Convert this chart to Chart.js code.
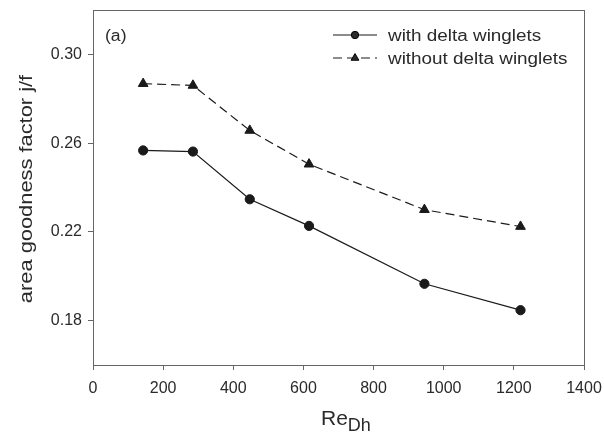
<!DOCTYPE html>
<html>
<head>
<meta charset="utf-8">
<script src="https://cdn.jsdelivr.net/npm/chart.js@4/dist/chart.umd.min.js"></script>
<style>
  html, body { margin: 0; padding: 0; background: #fff; }
  #wrap { width: 604px; height: 433px; }
</style>
</head>
<body>
<div id="wrap"><canvas id="grafica_jf"></canvas></div>
<script>
// datos
var reDh = [143, 285, 447, 616, 945, 1219];
var conDelta = [0.2567, 0.2562, 0.2347, 0.2227, 0.1966, 0.1847];
var sinDelta = [0.2868, 0.2860, 0.2657, 0.2505, 0.2300, 0.2224];
var ticksY = [0.18, 0.22, 0.26, 0.30];
var ticksX = [0, 200, 400, 600, 800, 1000, 1200, 1400];
var etiquetas = ["with delta winglets", "without delta winglets"];

var colorLinea = "#1a1a1a";
var colorEje = "#666";
var colorTexto = "#2a2a2a";
var fuente = "'Liberation Sans', Arial, sans-serif";

function puntos(xs, ys){
    var arr = [];
    xs.forEach(function(x, i){
        arr.push({x: x, y: ys[i]});
    });
    return arr;
}

// texto un poco ensanchado como en la figura original
function textoAncho(ctx, txt, x, y, px, estirar){
    ctx.save();
    ctx.font = px + "px " + fuente;
    ctx.translate(x, y);
    ctx.scale(estirar, 1);
    ctx.fillText(txt, 0, 0);
    ctx.restore();
}

var marcoYTextos = {
    id: "marcoYTextos",
    afterDraw: function(chart){
        var ctx = chart.ctx;
        var a = chart.chartArea;

        //--marco completo
        ctx.save();
        ctx.strokeStyle = colorEje;
        ctx.lineWidth = 1;
        ctx.strokeRect(Math.round(a.left) + 0.5, Math.round(a.top) + 0.5,
            Math.round(a.right - a.left), Math.round(a.bottom - a.top));
        ctx.restore();

        ctx.save();
        ctx.fillStyle = colorTexto;
        ctx.textBaseline = "alphabetic";
        ctx.textAlign = "left";

        //--(a)
        textoAncho(ctx, "(a)", 105, 41, 16, 1.1);

        //--leyenda
        var ds = chart.data.datasets;
        var filas = [35, 58];
        ds.forEach(function(d, i){
            var yy = filas[i];
            ctx.save();
            ctx.strokeStyle = d.borderColor;
            ctx.lineWidth = d.borderWidth;
            ctx.setLineDash(d.borderDash || []);
            ctx.beginPath();
            ctx.moveTo(333, yy);
            ctx.lineTo(377, yy);
            ctx.stroke();
            ctx.setLineDash([]);
            ctx.restore();
            Chart.helpers.drawPoint(ctx, {
                pointStyle: d.pointStyle,
                radius: d.pointRadius * 0.8,
                borderWidth: 1
            }, 355, yy);
            ctx.fillStyle = colorTexto;
            textoAncho(ctx, etiquetas[i], 388, yy + 6, 16, 1.18);
        });

        //--titulo eje x: Re con subindice Dh
        ctx.fillStyle = colorTexto;
        ctx.font = "21px " + fuente;
        ctx.fillText("Re", 321, 425);
        var w = ctx.measureText("Re").width;
        ctx.font = "18px " + fuente;
        ctx.fillText("Dh", 321 + w, 431);

        //--titulo eje y
        ctx.save();
        ctx.translate(32, 189);
        ctx.rotate(-Math.PI / 2);
        ctx.textAlign = "center";
        ctx.scale(1.15, 1);
        ctx.font = "19px " + fuente;
        ctx.fillText("area goodness factor j/f", 0, 0);
        ctx.restore();

        ctx.restore();
    }
};

var lienzo = document.getElementById("grafica_jf");

var grafica = new Chart(lienzo, {
    type: "line",
    data: {
        datasets: [{
            label: etiquetas[0],
            data: puntos(reDh, conDelta),
            borderColor: colorLinea,
            backgroundColor: colorLinea,
            borderWidth: 1.2,
            pointStyle: "circle",
            pointRadius: 4.6,
            pointBorderWidth: 1,
            fill: false,
            tension: 0
        }, {
            label: etiquetas[1],
            data: puntos(reDh, sinDelta),
            borderColor: colorLinea,
            backgroundColor: colorLinea,
            borderWidth: 1.2,
            borderDash: [9, 5],
            pointStyle: "triangle",
            pointRadius: 5.6,
            pointBorderWidth: 1,
            fill: false,
            tension: 0
        }]
    },
    options: {
        responsive: true,
        maintainAspectRatio: false,
        animation: false,
        layout: {
            padding: {left: 0, right: 20, top: 10, bottom: 0}
        },
        plugins: {
            legend: {display: false},
            tooltip: {enabled: false},
            title: {display: false}
        },
        scales: {
            x: {
                type: "linear",
                min: 0,
                max: 1400,
                afterBuildTicks: function(scale){
                    scale.ticks = ticksX.map(function(v){ return {value: v}; });
                },
                afterFit: function(scale){
                    scale.height = 68;
                    scale.paddingLeft = 0;
                    scale.paddingRight = 0;
                },
                ticks: {
                    color: colorTexto,
                    font: {family: fuente, size: 16},
                    padding: 9,
                    maxRotation: 0,
                    autoSkip: false,
                    callback: function(value){
                        return String(value);
                    }
                },
                grid: {
                    display: true,
                    drawOnChartArea: false,
                    drawTicks: true,
                    tickLength: 5,
                    color: colorEje
                },
                border: {display: true, color: colorEje, width: 1}
            },
            y: {
                type: "linear",
                min: 0.16,
                max: 0.32,
                afterBuildTicks: function(scale){
                    scale.ticks = ticksY.map(function(v){ return {value: v}; });
                },
                afterFit: function(scale){
                    scale.width = 93;
                    scale.paddingTop = 0;
                    scale.paddingBottom = 0;
                },
                ticks: {
                    color: colorTexto,
                    font: {family: fuente, size: 16},
                    padding: 6,
                    autoSkip: false,
                    callback: function(value){
                        return value.toFixed(2);
                    }
                },
                grid: {
                    display: true,
                    drawOnChartArea: false,
                    drawTicks: true,
                    tickLength: 5,
                    color: colorEje
                },
                border: {display: true, color: colorEje, width: 1}
            }
        }
    },
    plugins: [marcoYTextos]
});
</script>
</body>
</html>
